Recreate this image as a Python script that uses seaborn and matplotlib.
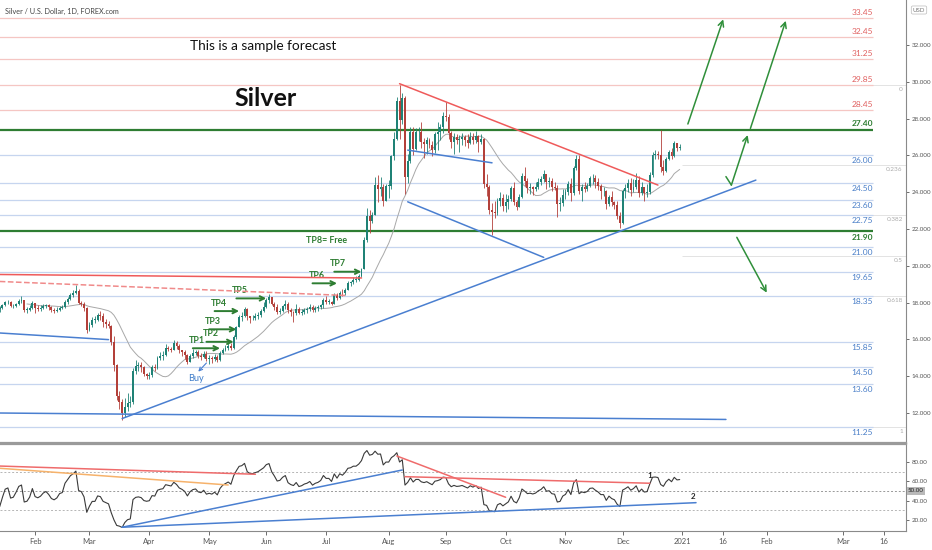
import numpy as np
import pandas as pd
import matplotlib
matplotlib.use("Agg")
import matplotlib.pyplot as plt
import seaborn as sns

# XAG/USD daily bars, 2 Jan - 31 Dec 2020 (no bar on 25 Dec)
closes = [
    # Jan
    18.05, 18.10, 18.25, 18.25, 18.00, 17.75, 17.95, 17.95, 17.65,
    17.70, 17.85, 18.02, 18.05, 17.80, 17.82, 17.93, 18.08, 18.12, 17.60, 17.62, 17.73, 18.00,
    # Feb
    17.70, 17.65, 17.70, 17.80, 17.85, 17.75, 17.60, 17.55, 17.60, 17.72,
    17.75, 18.06, 18.22, 18.40, 18.50, 18.65, 18.00, 17.95, 17.70, 16.50,
    # Mar
    16.80, 17.05, 17.05, 17.35, 17.30, 16.95, 16.85, 16.75, 15.85, 14.60,
    12.90, 12.60, 12.00, 12.35, 12.55, 12.60, 14.30, 14.55, 14.60, 14.50, 14.10, 14.00,
    # Apr
    14.05, 14.50, 14.45, 15.00, 15.10, 15.15, 15.55, 15.50, 15.45, 15.80, 15.65,
    15.40, 15.30, 15.15, 14.80, 15.10, 15.25, 15.30, 15.10, 15.05, 15.20, 14.95,
    # May
    15.00, 14.95, 15.05, 14.90, 15.25, 15.45, 15.55, 15.65, 15.55, 16.15, 16.65,
    17.20, 17.30, 17.65, 17.25, 17.15, 17.15, 17.25, 17.35, 17.55, 17.75,
    # Jun
    18.15, 18.30, 17.95, 17.75, 17.50, 17.55, 17.80, 17.95, 17.60, 17.50, 17.45,
    17.65, 17.45, 17.50, 17.60, 17.65, 17.75, 17.60, 17.70, 17.75, 17.85, 18.15,
    # Jul
    18.05, 18.05, 17.95, 18.40, 18.25, 18.55, 18.50, 18.70, 19.05, 19.10, 19.25, 19.25,
    19.45, 19.85, 21.40, 22.70, 22.45, 22.75, 24.40, 24.20, 24.30, 23.55, 24.35,
    # Aug
    24.35, 25.95, 26.90, 28.95, 27.95, 29.10, 24.85, 25.70, 27.30, 26.35, 27.25,
    27.25, 26.75, 26.60, 26.85, 26.55, 26.30, 27.15, 27.30, 27.55, 28.15,
    # Sep
    28.10, 27.20, 26.75, 27.00, 26.85, 26.90, 27.00, 26.85, 26.70, 27.00, 26.85,
    27.05, 26.75, 26.90, 24.45, 24.30, 23.05, 22.95, 22.85, 23.55, 23.70, 23.25,
    # Oct
    23.45, 23.65, 24.25, 23.45, 23.20, 23.75, 24.90, 24.60, 24.25, 24.30, 24.20,
    24.30, 24.55, 24.70, 25.00, 24.55, 24.60, 24.30, 24.25, 23.35, 23.40, 23.85,
    # Nov
    24.00, 24.45, 23.95, 25.30, 25.80, 24.05, 24.30, 24.20, 24.35, 24.75, 24.80,
    24.55, 24.35, 24.05, 24.05, 23.35, 23.75, 23.45, 23.30, 22.70, 22.35,
    # Dec
    24.05, 24.25, 24.50, 24.10, 24.30, 24.65, 23.95, 24.30, 23.95, 24.00, 24.95,
    26.05, 26.10, 26.05, 25.35, 25.15, 25.80, 26.20, 25.95, 26.65, 26.40, 26.45,
]
highs = [
    18.15, 18.25, 18.40, 18.35, 18.80, 18.10, 18.05, 18.10, 18.00,
    17.80, 17.95, 18.10, 18.15, 18.10, 17.92, 18.00, 18.20, 18.35, 18.15, 17.75, 17.85, 18.10,
    18.00, 17.85, 17.85, 17.90, 17.95, 17.90, 17.80, 17.70, 17.75, 17.80,
    17.85, 18.15, 18.30, 18.55, 18.70, 18.95, 18.75, 18.10, 18.05, 17.75,
    16.95, 17.20, 17.25, 17.45, 17.55, 17.45, 17.10, 17.00, 16.80, 16.20,
    14.65, 13.20, 12.75, 12.80, 13.10, 12.95, 14.45, 14.90, 14.80, 14.80, 14.55, 14.20,
    14.25, 14.60, 14.65, 15.10, 15.30, 15.35, 15.75, 15.65, 15.60, 15.95, 15.90,
    15.75, 15.45, 15.40, 15.20, 15.20, 15.50, 15.45, 15.40, 15.25, 15.35, 15.35,
    15.15, 15.10, 15.20, 15.15, 15.35, 15.55, 15.70, 15.80, 15.80, 16.25, 16.75,
    17.35, 17.50, 17.75, 17.70, 17.30, 17.35, 17.45, 17.50, 17.65, 18.05,
    18.25, 18.45, 18.30, 18.05, 17.95, 17.70, 17.85, 18.15, 18.05, 17.70, 17.55,
    17.90, 17.75, 17.65, 17.70, 17.75, 17.90, 17.85, 17.80, 17.85, 17.95, 18.25,
    18.35, 18.20, 18.10, 18.50, 18.50, 18.65, 18.75, 18.80, 19.15, 19.20, 19.40, 19.45,
    19.55, 19.90, 21.55, 23.15, 23.05, 22.90, 24.85, 24.95, 24.85, 24.45, 24.45,
    24.65, 26.05, 27.30, 29.20, 29.85, 29.40, 29.25, 26.10, 27.55, 27.55, 27.50,
    27.55, 27.80, 26.95, 27.00, 26.95, 26.80, 27.25, 27.80, 27.70, 28.35,
    28.90, 28.25, 27.35, 27.20, 27.15, 27.10, 27.20, 27.10, 27.15, 27.25, 27.20,
    27.35, 27.10, 27.15, 26.95, 25.00, 24.40, 23.40, 23.55, 23.70, 24.00, 23.90,
    23.90, 23.85, 24.35, 24.55, 23.60, 23.90, 25.05, 25.35, 24.75, 24.50, 24.35,
    24.55, 24.80, 24.90, 25.20, 25.00, 24.85, 24.75, 24.55, 24.40, 23.75, 24.15,
    24.15, 24.60, 24.75, 25.40, 26.05, 26.00, 24.45, 24.55, 24.50, 24.90, 25.00,
    24.95, 24.75, 24.45, 24.30, 24.10, 23.85, 24.05, 23.55, 23.55, 22.95,
    24.15, 24.45, 24.70, 24.80, 24.70, 25.05, 24.90, 24.55, 24.30, 24.45, 25.10,
    26.20, 26.30, 26.25, 27.40, 25.75, 25.90, 26.30, 26.40, 26.80, 26.70, 26.60,
]
lows = [
    17.80, 17.95, 18.00, 18.10, 17.85, 17.70, 17.70, 17.85, 17.60,
    17.50, 17.65, 17.80, 17.95, 17.75, 17.70, 17.75, 17.85, 18.00, 17.50, 17.45, 17.55, 17.65,
    17.45, 17.55, 17.55, 17.65, 17.70, 17.60, 17.50, 17.45, 17.50, 17.55,
    17.65, 17.70, 17.95, 18.15, 18.30, 18.45, 17.90, 17.80, 17.55, 16.35,
    16.45, 16.70, 16.90, 17.00, 17.05, 16.65, 16.60, 16.60, 15.70, 14.30,
    12.70, 12.20, 11.64, 11.80, 12.10, 12.30, 12.50, 14.10, 14.30, 14.25, 14.00, 13.85,
    13.85, 13.95, 14.30, 14.40, 14.90, 14.90, 15.10, 15.35, 15.30, 15.40, 15.50,
    15.25, 15.10, 14.95, 14.65, 14.75, 15.00, 15.15, 15.00, 14.90, 15.00, 14.85,
    14.65, 14.70, 14.85, 14.80, 14.85, 15.20, 15.35, 15.45, 15.40, 15.50, 16.05,
    16.65, 17.00, 17.20, 17.05, 16.90, 17.05, 17.05, 17.10, 17.20, 17.50,
    17.70, 18.00, 17.85, 17.60, 17.40, 17.40, 17.50, 17.65, 17.45, 17.25, 16.95,
    17.35, 17.40, 17.35, 17.40, 17.45, 17.55, 17.50, 17.50, 17.55, 17.65, 17.70,
    17.95, 17.90, 17.85, 17.95, 18.15, 18.20, 18.35, 18.40, 18.70, 18.90, 19.00, 19.10,
    19.20, 19.40, 19.85, 21.30, 21.80, 22.35, 22.75, 23.45, 23.80, 23.25, 23.50,
    23.70, 24.20, 25.75, 26.85, 26.90, 27.70, 23.90, 24.50, 25.60, 26.00, 26.30,
    26.80, 26.40, 25.85, 26.10, 26.40, 25.95, 26.15, 26.30, 26.85, 27.20,
    27.90, 26.90, 26.40, 26.10, 26.60, 26.20, 26.55, 26.50, 26.40, 26.60, 26.60,
    26.70, 26.20, 26.60, 24.25, 23.80, 22.80, 21.70, 22.60, 22.75, 23.25, 23.00,
    22.95, 23.10, 23.50, 23.30, 23.05, 23.20, 23.70, 24.35, 23.95, 23.90, 23.85,
    24.05, 24.20, 24.40, 24.55, 24.15, 24.30, 24.05, 24.10, 22.65, 23.00, 23.25,
    23.65, 23.85, 23.55, 23.85, 25.20, 23.90, 23.50, 24.00, 24.05, 24.30, 24.45,
    24.25, 24.10, 23.65, 23.80, 23.10, 23.25, 23.25, 23.10, 22.55, 22.05,
    22.25, 23.70, 24.00, 23.80, 24.00, 24.15, 23.75, 23.85, 23.55, 23.75, 23.90,
    24.85, 25.80, 25.80, 25.10, 24.95, 25.10, 25.75, 25.80, 25.90, 26.25, 26.30,
]
first_open = 18.00

levels_red = [33.45, 32.45, 31.25, 29.85, 28.45]
levels_green = [27.40, 21.90]
levels_blue = [26.00, 24.50, 23.60, 22.75, 21.00, 19.65, 18.35, 15.85, 14.50, 13.60, 11.25]
fib_ratios = [0, 0.236, 0.382, 0.5, 0.618, 1]
fib_labels = ["0", "0.236", "0.382", "0.5", "0.618", "1"]
fib_top, fib_bottom = 29.85, 11.25

RED = "#ef5a5a"
BLUE = "#4a7fd0"
GREEN = "#2e7d32"
UP, DOWN = "#1f8276", "#b3403a"

# hand drawn lines on the price pane: start, end, colour, style
price_lines = [
    (("2020-01-15", 19.53), ("2020-07-20", 19.34), RED, "-"),
    (("2020-01-15", 19.15), ("2020-07-10", 18.39), "#f08a8a", "--"),
    (("2020-01-15", 16.35), ("2020-03-11", 15.99), BLUE, "-"),
    (("2020-01-15", 12.00), ("2021-01-17", 11.65), BLUE, "-"),
    (("2020-03-18", 11.70), ("2021-01-28", 24.66), BLUE, "-"),
    (("2020-08-07", 29.90), ("2020-12-18", 24.39), RED, "-"),
    (("2020-08-12", 26.29), ("2020-09-24", 25.60), BLUE, "-"),
    (("2020-08-12", 23.48), ("2020-10-21", 20.46), BLUE, "-"),
]
tp_arrows = [
    ("TP1", "2020-04-23", "2020-05-07", 15.52),
    ("TP2", "2020-04-30", "2020-05-14", 15.87),
    ("TP3", "2020-05-01", "2020-05-15", 16.55),
    ("TP4", "2020-05-05", "2020-05-18", 17.54),
    ("TP5", "2020-05-15", "2020-06-01", 18.23),
    ("TP6", "2020-06-24", "2020-07-07", 19.05),
    ("TP7", "2020-07-06", "2020-07-20", 19.68),
]
forecast = [
    [("2021-01-03", 27.71), ("2021-01-16", 33.40)],
    [("2021-01-26", 27.47), ("2021-02-08", 33.32)],
    [("2021-01-17", 24.85), ("2021-01-19", 24.39), ("2021-01-25", 27.11)],
    [("2021-01-21", 21.55), ("2021-02-01", 18.54)],
]
rsi_lines = [
    (("2020-01-15", 75.8), ("2020-05-26", 67.3), "#ef6b6b"),
    (("2020-01-15", 73.5), ("2020-05-12", 56.2), "#f6b26b"),
    (("2020-03-18", 12.5), ("2020-08-10", 71.7), BLUE),
    (("2020-03-18", 12.5), ("2021-01-06", 37.9), BLUE),
    (("2020-08-06", 86.2), ("2020-10-01", 43.5), "#ef6b6b"),
    (("2020-08-11", 64.8), ("2020-12-15", 58.0), "#ef6b6b"),
]

tick_dates = ["2020-02-03", "2020-03-02", "2020-04-01", "2020-05-01", "2020-06-01", "2020-07-01",
              "2020-08-03", "2020-09-01", "2020-10-01", "2020-11-02", "2020-12-01", "2021-01-01",
              "2021-01-16", "2021-02-01", "2021-03-01", "2021-03-16"]
tick_labels = ["Feb", "Mar", "Apr", "May", "Jun", "Jul", "Aug", "Sep", "Oct", "Nov", "Dec",
               "2021", "16", "Feb", "Mar", "16"]

days = pd.bdate_range("2020-01-02", "2020-12-31")
days = days[days != pd.Timestamp("2020-12-25")]
assert len(days) == len(closes) == len(highs) == len(lows)
origin = days.get_loc(pd.Timestamp("2020-01-15"))
last_day = days[-1]


def pos(d):
    # bar index for traded days, calendar days after the last bar (like the chart)
    d = pd.Timestamp(d)
    if d > last_day:
        return len(days) - 1 - origin + (d - last_day).days
    return days.searchsorted(d) - origin


df = pd.DataFrame({"x": np.arange(len(days)) - origin, "close": closes, "high": highs, "low": lows})
df["open"] = [first_open] + closes[:-1]
df["ma"] = df["close"].rolling(20).mean()
delta = df["close"].diff().fillna(0)
gain = delta.clip(lower=0).ewm(alpha=1 / 14, adjust=False).mean()
loss = (-delta.clip(upper=0)).ewm(alpha=1 / 14, adjust=False).mean()
df["rsi"] = 100 - 100 / (1 + gain / loss)

sns.set_theme(style="white")
FONT = ["Lato", "DejaVu Sans"]
plt.rcParams["font.family"] = FONT

fig = plt.figure(figsize=(9.32, 5.5), dpi=100)
ax = fig.add_axes([0, 107 / 550, 906 / 932, 443 / 550])
ax2 = fig.add_axes([0, 19 / 550, 906 / 932, 87 / 550], sharex=ax)

x_left = pos("2020-01-02")
x_lab = pos("2021-03-12")

# horizontal levels
ax.hlines(levels_red, x_left, x_lab, colors="#f5c6c3", lw=0.9, zorder=1)
ax.hlines(levels_blue, x_left, x_lab, colors="#c6d5ef", lw=0.9, zorder=1)
ax.hlines(levels_green, x_left, x_lab, colors=GREEN, lw=1.6, zorder=3)
for v in levels_red:
    ax.annotate(f"{v:.2f}", (x_lab, v), xytext=(0, 2), textcoords="offset pixels",
                ha="right", va="bottom", fontsize=6.0, color="#e06060")
for v in levels_blue:
    ax.annotate(f"{v:.2f}", (x_lab, v), xytext=(0, -2), textcoords="offset pixels",
                ha="right", va="top", fontsize=6.0, color="#4a7fc8")
ax.annotate(f"{levels_green[0]:.2f}", (x_lab, levels_green[0]), xytext=(0, 3), textcoords="offset pixels",
            ha="right", va="bottom", fontsize=6.0, color=GREEN, fontweight="bold")
ax.annotate(f"{levels_green[1]:.2f}", (x_lab, levels_green[1]), xytext=(0, -3), textcoords="offset pixels",
            ha="right", va="top", fontsize=6.0, color=GREEN, fontweight="bold")

# fibonacci ratios on the right
for r, lab in zip(fib_ratios, fib_labels):
    v = fib_top - r * (fib_top - fib_bottom)
    ax.hlines(v, pos("2021-01-01"), pos("2021-03-26"), colors="#e3e3e3", lw=0.7, zorder=0)
    ax.annotate(lab, (pos("2021-03-23"), v), xytext=(0, -2), textcoords="offset pixels",
                ha="right", va="top", fontsize=4.6, color="#aaaaaa")

# candles
colors = np.where(df["close"] >= df["open"], UP, DOWN)
ax.vlines(df["x"], df["low"], df["high"], colors=colors, lw=0.6, zorder=4)
ax.bar(df["x"], (df["close"] - df["open"]).abs().clip(lower=0.04),
       bottom=np.minimum(df["open"], df["close"]), width=0.7, color=colors, lw=0, zorder=5)
sns.lineplot(data=df, x="x", y="ma", ax=ax, color="#a8a8a8", lw=0.7, zorder=3)

for (d0, p0), (d1, p1), c, ls in price_lines:
    ax.plot([pos(d0), pos(d1)], [p0, p1], color=c, lw=1.1, ls=ls, zorder=6)

for name, d0, d1, p in tp_arrows:
    ax.annotate("", xy=(pos(d1), p), xytext=(pos(d0), p),
                arrowprops=dict(arrowstyle="->", color=GREEN, lw=1.4, mutation_scale=8, shrinkA=0, shrinkB=0),
                zorder=7)
    ax.annotate(name, (pos(d0), p), xytext=(4, 8), textcoords="offset pixels", ha="center", va="center",
                fontsize=6.4, color=GREEN, fontweight="bold")
ax.text(pos("2020-07-01"), 21.4, "TP8= Free", ha="center", va="center", fontsize=6.4,
        color=GREEN, fontweight="bold")

ax.annotate("", xy=(pos("2020-04-27"), 14.25), xytext=(pos("2020-04-30"), 14.72),
            arrowprops=dict(arrowstyle="->", color=BLUE, lw=0.8, mutation_scale=6, shrinkA=0, shrinkB=0))
ax.text(pos("2020-04-24"), 13.85, "Buy", ha="center", va="center", fontsize=6.6, color="#3d7cc9")

for path in forecast:
    xs = [pos(d) for d, _ in path]
    ys = [p for _, p in path]
    if len(path) > 2:
        ax.plot(xs[:-1], ys[:-1], color="#2f8f3a", lw=1.1, zorder=7)
    ax.annotate("", xy=(xs[-1], ys[-1]), xytext=(xs[-2], ys[-2]),
                arrowprops=dict(arrowstyle="->", color="#2f8f3a", lw=1.1, mutation_scale=10, shrinkA=0, shrinkB=0))

ax.text(263 / 906, 1 - 46 / 443, "This is a sample forecast", transform=ax.transAxes,
        ha="center", va="center", fontsize=9.8, color="#111111")
ax.text(266 / 906, 1 - 98 / 443, "Silver", transform=ax.transAxes, ha="center", va="center",
        fontsize=18, fontweight="bold", color="#111111")

ax.set_ylim(10.37, 34.45)
ax.set_xlim(0.1, 333.2)
ax.set_xlabel("")
ax.set_ylabel("")
ax.yaxis.tick_right()
yt = np.arange(12, 33, 2)
ax.set_yticks(yt)
ax.set_yticklabels([f"{v:.3f}" for v in yt])
ax.tick_params(axis="y", right=True, labelsize=4.5, colors="#555555", length=2.5, width=0.6, pad=1.5)
ax.tick_params(axis="x", bottom=False, labelbottom=False)
for s in ["left", "top"]:
    ax.spines[s].set_visible(False)
ax.spines["right"].set_color("#8a8a8a")
ax.spines["right"].set_linewidth(0.8)
ax.spines["bottom"].set_color("#9a9a9a")
ax.spines["bottom"].set_linewidth(1.6)

# RSI pane
for lvl, c in [(70, "#b5b5b5"), (50, "#999999"), (30, "#b5b5b5")]:
    ax2.axhline(lvl, color=c, lw=0.7, ls=(0, (2, 2)), zorder=1)
sns.lineplot(data=df, x="x", y="rsi", ax=ax2, color="#3a3a3a", lw=0.8, zorder=4)
for (d0, r0), (d1, r1), c in rsi_lines:
    ax2.plot([pos(d0), pos(d1)], [r0, r1], color=c, lw=1.1, zorder=5)
ax2.text(pos("2020-12-15"), 65.5, "1", fontsize=5.8, fontweight="bold", ha="center", va="center")
ax2.text(pos("2021-01-05"), 44.8, "2", fontsize=5.8, fontweight="bold", ha="center", va="center")
ax2.set_ylim(8.6, 98.6)
ax2.set_xlabel("")
ax2.set_ylabel("")
ax2.yaxis.tick_right()
ax2.set_yticks([20, 40, 60, 80])
ax2.set_yticklabels([f"{v:.2f}" for v in [20, 40, 60, 80]])
ax2.annotate("50.00", xy=(1.0, 50), xycoords=("axes fraction", "data"), xytext=(2, 0),
             textcoords="offset pixels", ha="left", va="center", fontsize=4.5, color="#222222",
             bbox=dict(boxstyle="square,pad=0.2", fc="#b9b9b9", ec="none"), annotation_clip=False)
ax2.set_xticks([pos(d) for d in tick_dates])
ax2.set_xticklabels(tick_labels)
ax2.tick_params(axis="x", bottom=True, labelsize=5.5, colors="#555555", length=3, width=0.6, pad=2)
ax2.tick_params(axis="y", right=True, labelsize=4.5, colors="#555555", length=2.5, width=0.6, pad=1.5)
ax2.spines["left"].set_visible(False)
ax2.spines["top"].set_color("#9a9a9a")
ax2.spines["top"].set_linewidth(1.6)
for s in ["right", "bottom"]:
    ax2.spines[s].set_color("#8a8a8a")
    ax2.spines[s].set_linewidth(0.8)

fig.text(5 / 932, 1 - 11 / 550, "Silver / U.S. Dollar, 1D, FOREX.com", fontsize=5.2, color="#444444",
         ha="left", va="center")
fig.text(919 / 932, 1 - 10 / 550, "USD", fontsize=4.4, color="#777777", ha="center", va="center",
         bbox=dict(boxstyle="round,pad=0.25", fc="white", ec="#bbbbbb", lw=0.5))

fig.savefig("out.png", dpi=100)
